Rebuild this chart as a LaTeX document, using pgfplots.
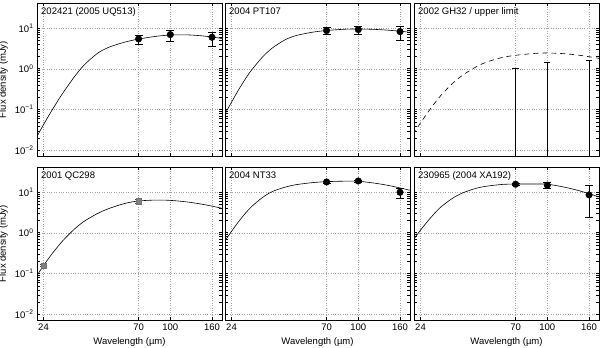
\documentclass[border=0pt]{standalone}
\usepackage{fontspec}
\setmainfont{Liberation Sans}
\usepackage{pgfplots}
\pgfplotsset{compat=1.18}

\pgfplotsset{
  sedaxis/.style={
    scale only axis,
    width=185pt, height=152.7pt,
    anchor=south west,
    xmin=22.3, xmax=179,
    ymin=0.0073, ymax=40,
    xtick={24,70,100,160},
    xticklabels={24,70,100,160},
    ytick={0.01,0.1,1,10},
    yticklabels={10\textsuperscript{−2},10\textsuperscript{−1},10\textsuperscript{0},10\textsuperscript{1}},
    minor tick num=0,
    grid=major,
    major grid style={dotted, black!35, line width=0.4pt},
    axis line style={black, line width=0.8pt},
    tick style={black, line width=0.5pt},
    major tick length=3pt,
    tick label style={font=\fontsize{9.5}{11}\selectfont},
    label style={font=\fontsize{9.5}{11}\selectfont},
  },
}
\tikzset{
  sedmodel/.style={black, line width=0.6pt, smooth},
}
\newcommand{\paneltitle}[1]{\node[anchor=north west, inner sep=0pt, font=\fontsize{9.5}{11}\selectfont,
  xshift=4pt, yshift=-4.5pt] at (rel axis cs:0,1) {#1};}

\begin{document}
\begin{tikzpicture}
  % ---- top row ----
  \begin{loglogaxis}[sedaxis, at={(37pt,192pt)}, xticklabels={}, ylabel={Flux density (mJy)}]
    \addplot[sedmodel, no marks] coordinates {
      (22,0.0195) (24,0.0427) (26,0.0849) (28,0.155) (30,0.265) (34,0.638) (38,1.245) (44,2.37)
      (50,3.35) (60,4.49) (70,5.33) (85,6.21) (100,6.68) (120,6.75) (140,6.44) (160,5.98) (180,5.48)};
    \addplot[only marks, mark=*, mark size=3.3pt, black,
      error bars/y dir=both, error bars/y explicit,
      error bars/error bar style={line width=0.6pt, black},
      error bars/error mark options={rotate=90, mark size=3.9pt, line width=0.6pt, black}]
      coordinates {
      (70,5.37) += (0,1.36) -= (0,1.47)
      (100,6.85) += (0,1.75) -= (0,2.05)
      (160,5.9) += (0,2.1) -= (0,2.4)};
    \paneltitle{202421 (2005 UQ513)}
  \end{loglogaxis}

  \begin{loglogaxis}[sedaxis, at={(225pt,192pt)}, xticklabels={}, yticklabels={}]
    \addplot[sedmodel, no marks] coordinates {
      (22,0.0684) (24,0.152) (26,0.306) (28,0.555) (30,0.912) (34,1.93) (38,3.22) (44,5.15)
      (50,6.56) (60,7.87) (70,8.63) (85,9.25) (100,9.40) (120,9.19) (140,8.78) (160,8.30) (180,7.78)};
    \addplot[only marks, mark=*, mark size=3.3pt, black,
      error bars/y dir=both, error bars/y explicit,
      error bars/error bar style={line width=0.6pt, black},
      error bars/error mark options={rotate=90, mark size=3.9pt, line width=0.6pt, black}]
      coordinates {
      (70,8.6) += (0,1.5) -= (0,1.6)
      (100,9.1) += (0,1.9) -= (0,2.2)
      (160,8.1) += (0,2.9) -= (0,3.0)};
    \paneltitle{2004 PT107}
  \end{loglogaxis}

  \begin{loglogaxis}[sedaxis, at={(414pt,192pt)}, xticklabels={}, yticklabels={}]
    \addplot[sedmodel, no marks, dash pattern=on 5pt off 4pt] coordinates {
      (22,0.0244) (24,0.0472) (26,0.0841) (28,0.139) (30,0.215) (34,0.413) (38,0.659) (44,1.054)
      (50,1.43) (60,1.88) (70,2.13) (85,2.35) (100,2.43) (120,2.34) (140,2.17) (160,1.97) (180,1.79)};
    % upper limits: bar from below the axis up to the limit
    \addplot[only marks, mark=none, black,
      error bars/y dir=plus, error bars/y explicit,
      error bars/error bar style={line width=0.6pt, black},
      error bars/error mark options={rotate=90, mark size=3.2pt, line width=0.6pt, black}]
      coordinates {
      (70,0.001) += (0,1.049)
      (100,0.001) += (0,1.469)
      (160,0.001) += (0,1.639)};
    \paneltitle{2002 GH32 / upper limit}
  \end{loglogaxis}

  % ---- bottom row ----
  \begin{loglogaxis}[sedaxis, at={(37pt,28pt)}, xlabel={Wavelength (µm)}, ylabel={Flux density (mJy)}]
    \addplot[sedmodel, no marks] coordinates {
      (22,0.081) (24,0.157) (26,0.275) (28,0.439) (30,0.659) (34,1.23) (38,1.92) (44,2.94)
      (50,3.9) (60,5.22) (70,6.0) (85,6.3) (100,6.2) (120,5.7) (140,5.08) (160,4.48) (180,3.94)};
    \addplot[only marks, mark=square*, mark size=2.8pt, black!50,
      mark options={draw=black!55, fill=black!50},
      error bars/y dir=both, error bars/y explicit,
      error bars/error bar style={line width=0.6pt, black!70},
      error bars/error mark options={rotate=90, mark size=3.5pt, line width=0.6pt, black!70}]
      coordinates {
      (24,0.157) +- (0,0.008)
      (70,5.9) += (0,0.55) -= (0,0.6)};
    \paneltitle{2001 QC298}
  \end{loglogaxis}

  \begin{loglogaxis}[sedaxis, at={(225pt,28pt)}, xlabel={Wavelength (µm)}, yticklabels={}]
    \addplot[sedmodel, no marks] coordinates {
      (22,0.58) (24,1.08) (26,1.87) (28,2.96) (30,4.31) (34,7.28) (38,10.2) (44,13.1)
      (50,15.1) (60,16.9) (70,17.8) (85,18.3) (100,18.2) (120,16.4) (140,14.4) (160,12.5) (180,10.9)};
    \addplot[only marks, mark=*, mark size=3.3pt, black,
      error bars/y dir=both, error bars/y explicit,
      error bars/error bar style={line width=0.6pt, black},
      error bars/error mark options={rotate=90, mark size=3.9pt, line width=0.6pt, black}]
      coordinates {
      (70,17.5) +- (0,1.0)
      (100,18.5) +- (0,1.2)
      (160,9.8) += (0,2.3) -= (0,2.7)};
    \paneltitle{2004 NT33}
  \end{loglogaxis}

  \begin{loglogaxis}[sedaxis, at={(414pt,28pt)}, xlabel={Wavelength (µm)}, yticklabels={}]
    \addplot[sedmodel, no marks] coordinates {
      (22,0.64) (24,1.16) (26,1.91) (28,2.92) (30,4.16) (34,6.7) (38,9.14) (44,11.9)
      (50,13.7) (60,15.2) (70,15.6) (85,15.6) (100,15.4) (120,13.2) (140,11.0) (160,9.04) (180,7.48)};
    \addplot[only marks, mark=*, mark size=3.3pt, black,
      error bars/y dir=both, error bars/y explicit,
      error bars/error bar style={line width=0.6pt, black},
      error bars/error mark options={rotate=90, mark size=3.9pt, line width=0.6pt, black}]
      coordinates {
      (70,15.4) +- (0,0.8)
      (100,14.6) += (0,2.4) -= (0,2.5)
      (160,8.45) += (0,5.85) -= (0,6.07)};
    \paneltitle{230965 (2004 XA192)}
  \end{loglogaxis}

  \pgfresetboundingbox
  \path[use as bounding box] (0,0) rectangle (600pt,348pt);
\end{tikzpicture}
\end{document}
